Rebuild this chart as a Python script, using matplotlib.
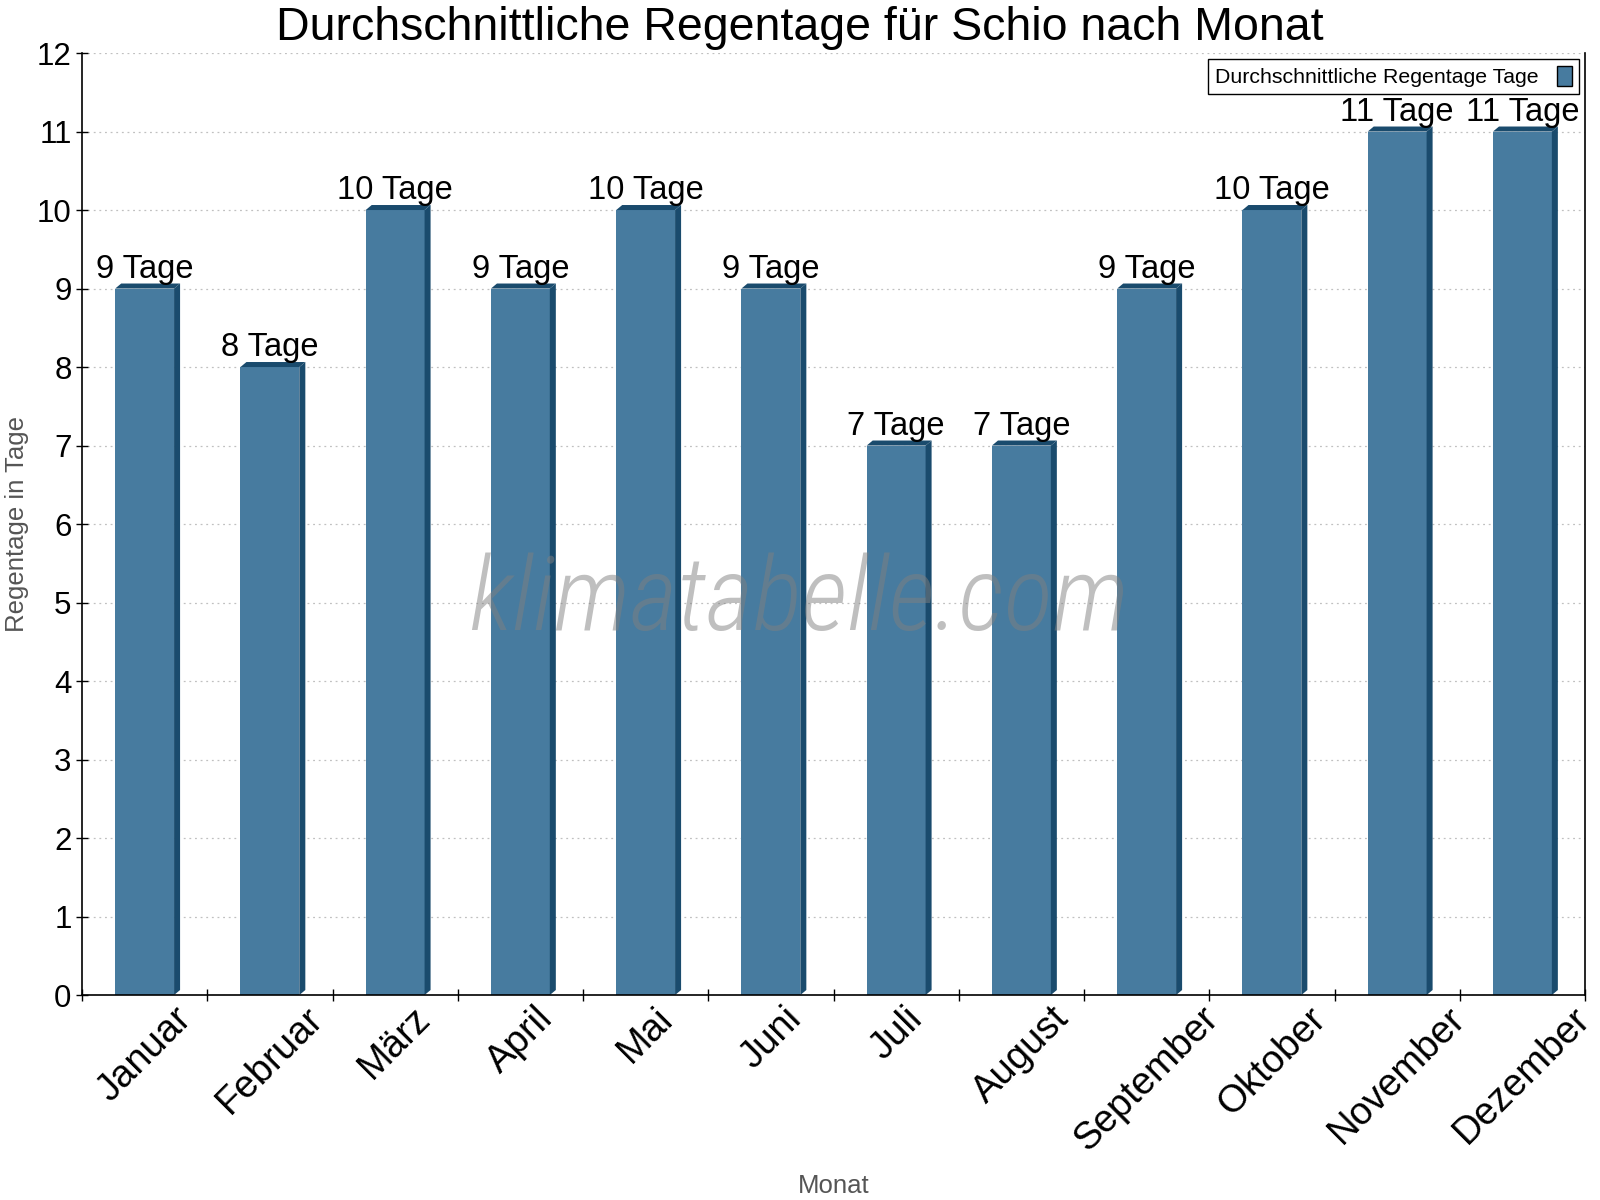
import matplotlib
matplotlib.use('Agg')
import matplotlib.pyplot as plt
from matplotlib.patches import Polygon, Patch

plt.rcParams['font.family'] = ['Liberation Sans', 'DejaVu Sans']

# data
months = ['Januar', 'Februar', 'März', 'April', 'Mai', 'Juni', 'Juli',
          'August', 'September', 'Oktober', 'November', 'Dezember']
rain_days = [9, 8, 10, 9, 10, 9, 7, 7, 9, 10, 11, 11]

face_col = '#477b9f'
side_col = '#1a4b6d'

fig = plt.figure(figsize=(16, 12), dpi=100)
ax = fig.add_axes([0.05125, 0.1708, 0.9394, 0.785])

width = 0.47
dx, dy = 0.048, 0.064  # pseudo-3D depth

x = list(range(len(months)))
ax.bar(x, rain_days, width=width, color=face_col, zorder=2)

for xi, h in zip(x, rain_days):
    xl, xr = xi - width / 2, xi + width / 2
    # right side face
    ax.add_patch(Polygon([(xr, 0), (xr + dx, dy), (xr + dx, h + dy), (xr, h)],
                         closed=True, facecolor=side_col, edgecolor='none', zorder=2))
    # top face
    ax.add_patch(Polygon([(xl, h), (xl + dx, h + dy), (xr + dx, h + dy), (xr, h)],
                         closed=True, facecolor=side_col, edgecolor='none', zorder=2))
    ax.annotate(f'{h} Tage', (xi, h + dy), xytext=(0, 4),
                textcoords='offset points', ha='center', va='baseline',
                fontsize=23.5, zorder=4)

ax.set_xlim(-0.5, 11.5)
ax.set_ylim(0, 12)

# ticks on the category borders, labels in the middle
ax.set_xticks([i - 0.5 for i in range(len(months) + 1)])
ax.set_xticklabels([])
ax.set_xticks(x, minor=True)
ax.set_xticklabels(months, minor=True, rotation=45, ha='center', va='top', fontsize=27.5)
ax.tick_params(axis='x', which='minor', length=0, pad=4)
ax.tick_params(axis='x', which='major', direction='inout', length=9, width=1)
ax.set_yticks(range(0, 13))
ax.tick_params(axis='y', direction='inout', length=9, width=1, labelsize=22.5, pad=3)

ax.spines['top'].set_visible(False)
for s in ['left', 'bottom', 'right']:
    ax.spines[s].set_linewidth(1.2)

ax.yaxis.grid(True, color='#c0c0c0', linestyle=(0, (1.5, 3)), linewidth=0.9, zorder=0)
ax.set_axisbelow(True)

ax.set_ylabel('Regentage in Tage', fontsize=18.5, color='#555555')
ax.set_xlabel('Monat', fontsize=18.5, color='#555555')
ax.xaxis.set_label_coords(0.5, -0.19)
ax.yaxis.set_label_coords(-0.035, 0.5)

fig.suptitle('Durchschnittliche Regentage für Schio nach Monat', fontsize=33.5, y=0.995, va='top')

# watermark
ax.text(0.477, 0.388, 'klimatabelle.com', transform=ax.transAxes, ha='center', va='baseline',
        fontsize=74, style='italic', weight='light', color='#808080', alpha=0.5,
        family=['Roboto Condensed', 'Roboto', 'DejaVu Sans'], zorder=3)

handle = Patch(facecolor=face_col, edgecolor='black', linewidth=1)
leg = ax.legend([handle], ['Durchschnittliche Regentage Tage'], loc='upper right',
                fontsize=15.3, markerfirst=False, fancybox=False, framealpha=1,
                edgecolor='black', handlelength=0.7, handleheight=1.1,
                borderaxespad=0.3, borderpad=0.3, handletextpad=0.9)
leg.get_frame().set_linewidth(1)

plt.savefig('out.png', dpi=100)
